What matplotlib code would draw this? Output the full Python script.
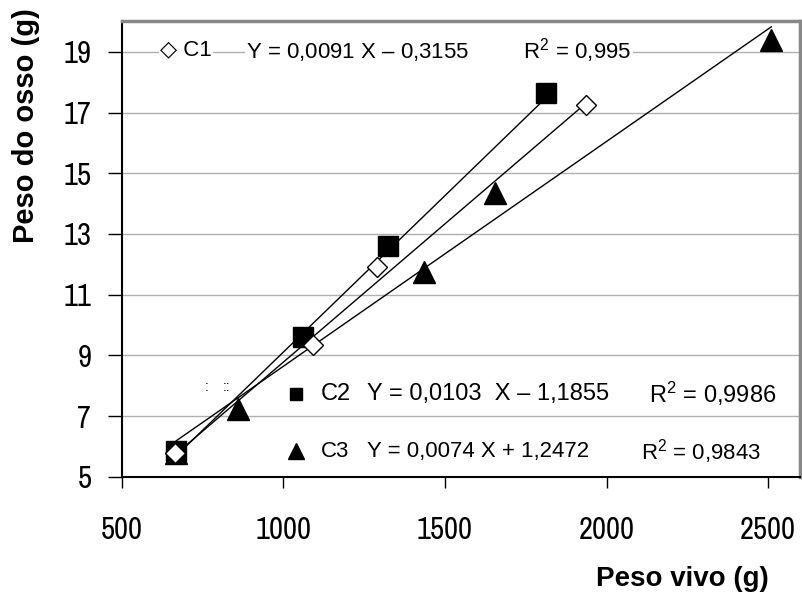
import matplotlib
matplotlib.use("Agg")
import matplotlib.pyplot as plt
from matplotlib import font_manager
import numpy as np

# bone weight vs live weight, three groups
c1_x = [665, 1093, 1289, 1935]
c1_y = [5.8, 9.35, 11.9, 17.25]
c2_x = [668, 1062, 1324, 1812]
c2_y = [5.85, 9.6, 12.6, 17.65]
c3_x = [668, 860, 1436, 1656, 2510]
c3_y = [5.8, 7.25, 11.75, 14.35, 19.4]

# fitted lines (slope, intercept)
c1_fit = (0.0091, -0.3155)
c2_fit = (0.0103, -1.1855)
c3_fit = (0.0074, 1.2472)

x_ticks = [500, 1000, 1500, 2000, 2500]
y_ticks = [5, 7, 9, 11, 13, 15, 17, 19]

# narrow face for the tick numbers, if one is installed
narrow_names = sorted({f.name for f in font_manager.fontManager.ttflist
                       if 'Narrow' in f.name or 'Condensed' in f.name})
narrow = narrow_names[:1] + ['Liberation Sans', 'DejaVu Sans']

plt.rcParams['font.family'] = ['Liberation Sans', 'DejaVu Sans']
plt.rcParams['mathtext.fontset'] = 'custom'
plt.rcParams['mathtext.rm'] = 'Liberation Sans'
plt.rcParams['mathtext.it'] = 'Liberation Sans'

fig = plt.figure(figsize=(8.02, 5.94), dpi=100)
ax = fig.add_axes([0.152, 0.197, 0.846, 0.767])

ax.set_xlim(500, 2600)
ax.set_ylim(5, 20)
ax.set_xticks(x_ticks)
ax.set_yticks(y_ticks)
tick_fs = 22 if narrow_names else 20
ax.set_xticklabels([str(v) for v in x_ticks], family=narrow, fontsize=tick_fs)
ax.set_yticklabels([str(v) for v in y_ticks], family=narrow, fontsize=tick_fs)
ax.tick_params(direction='out', length=8, width=1, pad=20, axis='x')
ax.tick_params(direction='out', length=10, width=1, pad=12, axis='y')

for v in y_ticks[1:]:
    ax.axhline(v, color='#b0b0b0', lw=1, zorder=0)

for s in ['left', 'bottom']:
    ax.spines[s].set_linewidth(1.5)
    ax.spines[s].set_color('black')
for s in ['top', 'right']:
    ax.spines[s].set_linewidth(2.5)
    ax.spines[s].set_color('#888888')

# trend lines
for xs, (a, b) in [(c1_x, c1_fit), (c2_x, c2_fit), (c3_x, c3_fit)]:
    xx = np.array([min(xs), max(xs)])
    ax.plot(xx, a * xx + b, color='black', lw=1, zorder=2)

ax.plot(c3_x, c3_y, '^', color='black', ms=16, zorder=3)
ax.plot(c2_x, c2_y, 's', color='black', ms=14, zorder=4)
ax.plot(c1_x, c1_y, 'D', mfc='white', mec='black', mew=1, ms=10, zorder=5)

# equation labels
box = dict(facecolor='white', edgecolor='none', pad=1)
ax.text(618, 19.05, '\u25C7 C1', fontsize=16, va='center', bbox=box, zorder=6)
ax.text(885, 19.05, 'Y = 0,0091 X \u2013 0,3155         R$^2$ = 0,995', fontsize=16,
        va='center', bbox=box, zorder=6)

ax.plot([1040], [7.72], 's', color='black', ms=9, zorder=6)
ax.text(1115, 7.72, 'C2', fontsize=17, va='center', zorder=6)
ax.text(1258, 7.72, 'Y = 0,0103  X \u2013 1,1855', fontsize=17, va='center', zorder=6)
ax.text(2130, 7.72, 'R$^2$ = 0,9986', fontsize=17, va='center', zorder=6)

ax.plot([1040], [5.85], '^', color='black', ms=11, zorder=6)
ax.text(1115, 5.85, 'C3', fontsize=16, va='center', zorder=6)
ax.text(1258, 5.85, 'Y = 0,0074 X + 1,2472', fontsize=16, va='center', zorder=6)
ax.text(2108, 5.85, 'R$^2$ = 0,9843', fontsize=16, va='center', zorder=6)

ax.text(762, 7.95, ':', fontsize=10, va='center', ha='center')
ax.text(825, 7.95, '::', fontsize=10, va='center', ha='center')

fig.text(0.958, 0.0135, 'Peso vivo (g)', fontsize=20, fontweight='bold',
         ha='right', va='baseline')
fig.text(0.015, 0.788, 'Peso do osso (g)', fontsize=21, fontweight='bold',
         rotation=90, ha='left', va='center')

fig.savefig('out.png', dpi=100)
